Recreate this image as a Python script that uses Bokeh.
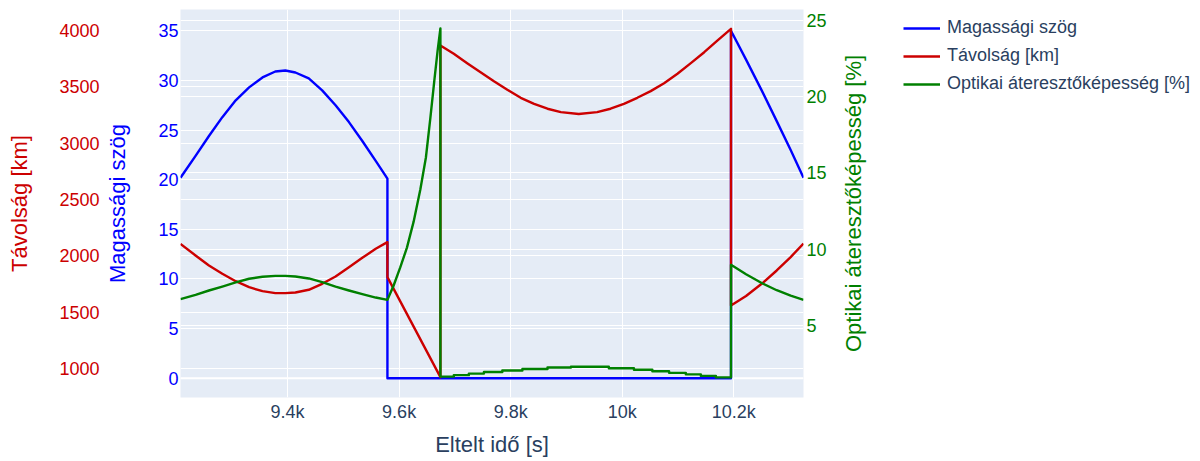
import math
from bokeh.plotting import figure
from bokeh.layouts import row
from bokeh.models import Range1d, LinearAxis, Grid, FixedTicker, Legend, LegendItem, Span, Label
from bokeh.embed import file_html
from bokeh.resources import INLINE

FONT = "Liberation Sans"
BLUE = "#0000FF"
RED = "#CC0000"
GREEN = "#008000"
INK = "#2a3f5f"

# ---- first visible pass ----
t_a = [9208, 9235, 9259, 9283, 9307, 9331, 9355, 9378, 9396, 9414, 9438, 9462, 9486, 9510, 9534, 9558, 9579]
elev_a = [20.2, 22.4, 24.4, 26.3, 28.0, 29.3, 30.3, 30.9, 31.0, 30.8, 30.2, 29.0, 27.5, 25.8, 23.9, 21.9, 20.1]
dist_a = [2107, 2004, 1915, 1842, 1776, 1723, 1688, 1670, 1670, 1676, 1700, 1753, 1818, 1900, 1983, 2063, 2122]
opt_a = [6.73, 7.01, 7.29, 7.55, 7.82, 8.06, 8.19, 8.25, 8.25, 8.21, 8.08, 7.84, 7.55, 7.29, 7.05, 6.83, 6.68]

# ---- between the passes ----
t_gap_dist = [9579, 9674]
dist_gap = [1812, 926]
t_gap_opt = [9590, 9602, 9614, 9626, 9638, 9648, 9656, 9663, 9669, 9674]
opt_gap = [7.6, 8.8, 10.1, 11.8, 13.9, 16.0, 18.6, 21.0, 23.0, 24.45]

# elevation stays at the horizon
t_low = [9579, 10195]
elev_low = [0, 0]

# ---- second (low) pass ----
t_b = [9674, 9698, 9722, 9746, 9770, 9794, 9818, 9842, 9866, 9890, 9922, 9955,
       9979, 10003, 10027, 10051, 10075, 10099, 10123, 10147, 10171, 10195]
dist_b = [3864, 3791, 3708, 3628, 3548, 3472, 3401, 3348, 3304, 3274, 3258, 3274,
          3304, 3348, 3401, 3460, 3530, 3614, 3708, 3805, 3909, 4012]
# transmittance is reported in coarse steps here
opt_step_t = [9674, 9698, 9725, 9752, 9785, 9821, 9866, 9908, 9976, 10021, 10054, 10084, 10114, 10141, 10168]
opt_step_v = [1.65, 1.75, 1.85, 1.95, 2.05, 2.15, 2.25, 2.3, 2.2, 2.1, 2.0, 1.9, 1.8, 1.7, 1.6]

# ---- third pass ----
t_c = [10195, 10222, 10250, 10277, 10302, 10325]
elev_c = [35.0, 32.1, 29.0, 25.9, 23.0, 20.2]
dist_c = [1561, 1645, 1753, 1871, 1990, 2110]
opt_c = [8.97, 8.35, 7.78, 7.31, 6.95, 6.68]

# ---- axes ----
x_ticks = [9400, 9600, 9800, 10000, 10200]
x_tick_labels = ["9.4k", "9.6k", "9.8k", "10k", "10.2k"]
elev_ticks = [0, 5, 10, 15, 20, 25, 30, 35]
dist_ticks = [1000, 1500, 2000, 2500, 3000, 3500, 4000]
opt_ticks = [5, 10, 15, 20, 25]

names = ["Magassági szög", "Távolság [km]", "Optikai áteresztőképesség [%]"]

# assemble the traces
elev_x = t_a + t_low + t_c
elev_y = elev_a + elev_low + elev_c
dist_x = t_a + t_gap_dist + t_b + t_c
dist_y = dist_a + dist_gap + dist_b + dist_c
stair_x, stair_y = [], []
for i, (t0, v) in enumerate(zip(opt_step_t, opt_step_v)):
    t1 = opt_step_t[i + 1] if i + 1 < len(opt_step_t) else t_c[0]
    stair_x += [t0, t1]
    stair_y += [v, v]
opt_x = t_a + t_gap_opt + stair_x + t_c
opt_y = opt_a + opt_gap + stair_y + opt_c

MAIN_W = 829
p = figure(width=MAIN_W, height=461, output_backend="svg", toolbar_location=None, title=None,
           x_range=Range1d(9208, 10325), y_range=Range1d(-1.944, 37.145),
           min_border_left=180, min_border_right=26, min_border_top=9, min_border_bottom=64)
p.background_fill_color = "#E5ECF6"
p.border_fill_color = "white"
p.outline_line_color = None
p.extra_y_ranges = {"dist": Range1d(745.7, 4183.3), "opt": Range1d(0.285, 25.69)}


def style_axis(ax, color, title, label_standoff, title_standoff):
    ax.axis_label = title
    ax.axis_line_color = None
    ax.major_tick_line_color = None
    ax.minor_tick_line_color = None
    ax.major_tick_out = 0
    ax.major_tick_in = 0
    ax.minor_tick_out = 0
    ax.major_label_text_font = FONT
    ax.major_label_text_font_size = "18px"
    ax.major_label_text_color = color
    ax.major_label_standoff = label_standoff
    ax.axis_label_text_font = FONT
    ax.axis_label_text_font_size = "22px"
    ax.axis_label_text_font_style = "normal"
    ax.axis_label_text_color = color
    ax.axis_label_standoff = title_standoff


# x axis
xa = p.xaxis[0]
xa.ticker = FixedTicker(ticks=x_ticks)
xa.major_label_overrides = {t: s for t, s in zip(x_ticks, x_tick_labels)}
style_axis(xa, INK, "Eltelt idő [s]", 4, 7)

# elevation axis (inner left)
ya = p.yaxis[0]
ya.ticker = FixedTicker(ticks=elev_ticks)
style_axis(ya, BLUE, names[0], 2, 25)

# distance axis (outer left)
da = LinearAxis(y_range_name="dist", ticker=FixedTicker(ticks=dist_ticks))
style_axis(da, RED, names[1], 3, 24)
p.add_layout(da, "left")

# transmittance axis (right); its title is set beside it, reading upwards
oa = LinearAxis(y_range_name="opt", ticker=FixedTicker(ticks=opt_ticks))
style_axis(oa, GREEN, None, 3, 0)
p.add_layout(oa, "right")

# grids for every axis
p.xgrid.grid_line_color = "white"
p.xgrid.grid_line_width = 1
p.ygrid.grid_line_color = "white"
p.ygrid.grid_line_width = 1
p.add_layout(Grid(dimension=1, ticker=da.ticker, y_range_name="dist",
                  grid_line_color="white", grid_line_width=1))
p.add_layout(Grid(dimension=1, ticker=oa.ticker, y_range_name="opt",
                  grid_line_color="white", grid_line_width=1))
p.add_layout(Span(location=0, dimension="width", line_color="white", line_width=2, level="underlay"))

LW = 2.4
p.line(elev_x, elev_y, line_color=BLUE, line_width=LW, line_join="round")
p.line(dist_x, dist_y, line_color=RED, line_width=LW, line_join="round", y_range_name="dist")
p.line(opt_x, opt_y, line_color=GREEN, line_width=LW, line_join="round", y_range_name="opt")

# side panel: right axis title and the legend (its frame lines up with the main frame)
side = figure(width=1200 - MAIN_W, height=461, output_backend="svg", toolbar_location=None, title=None,
              x_range=Range1d(0, 1), y_range=Range1d(0, 1), min_border=0,
              x_axis_type=None, y_axis_type=None)
side.outline_line_color = None
side.background_fill_color = "white"
side.border_fill_color = "white"

side.add_layout(Label(x=24, y=194, x_units="screen", y_units="screen", text=names[2],
                      angle=math.pi / 2, text_align="center", text_baseline="middle",
                      text_font=FONT, text_font_size="22px", text_color=GREEN))

# legend keys reuse the series; they fall outside this panel's ranges
keys = [side.line(xs, ys, line_color=c, line_width=LW)
        for xs, ys, c in ((elev_x, elev_y, BLUE), (dist_x, dist_y, RED), (opt_x, opt_y, GREEN))]
legend = Legend(items=[LegendItem(label=n, renderers=[k]) for n, k in zip(names, keys)],
                location=(74, 303), orientation="vertical",
                glyph_width=37, glyph_height=20, label_height=20, label_standoff=7,
                spacing=7, padding=0, margin=0,
                border_line_alpha=0, background_fill_alpha=0,
                label_text_font=FONT, label_text_font_size="18px", label_text_color=INK)
side.add_layout(legend)

open("out.html", "w").write(file_html(row(p, side), INLINE))
